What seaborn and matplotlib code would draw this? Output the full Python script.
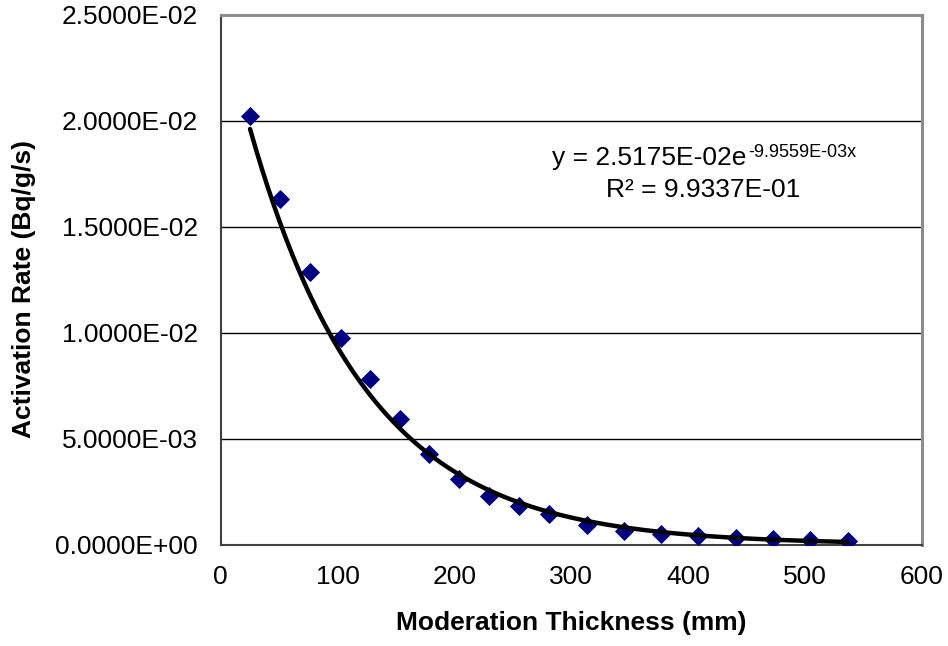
import numpy as np
import pandas as pd
import matplotlib
matplotlib.use("Agg")
import matplotlib.pyplot as plt
from matplotlib.ticker import FuncFormatter
import seaborn as sns

# ---- data ----
thickness_mm = [25.1, 50.8, 76.7, 102.7, 127.8, 153.3, 178.6, 204.0, 229.7, 255.4,
                281.0, 313.2, 344.7, 376.7, 408.6, 440.6, 472.6, 504.5, 536.5]
activation_rate = [0.02023, 0.01628, 0.01284, 0.00973, 0.00779, 0.00593, 0.00427,
                   0.00309, 0.00229, 0.00182, 0.00144, 0.00091, 0.00065, 0.00051,
                   0.00040, 0.00032, 0.00026, 0.00021, 0.00015]
# exponential trendline coefficients printed on the chart
fit_a = 2.5175e-02
fit_b = -9.9559e-03
eq_main = "y = 2.5175E-02e"
eq_sup = "-9.9559E-03x"
r2_text = "R\u00b2 = 9.9337E-01"
x_ticks = [0, 100, 200, 300, 400, 500, 600]
y_ticks = [0.0, 0.005, 0.010, 0.015, 0.020, 0.025]
x_label = "Moderation Thickness (mm)"
y_label = "Activation Rate (Bq/g/s)"

df = pd.DataFrame({"thickness": thickness_mm, "rate": activation_rate})
xt = np.linspace(min(thickness_mm), max(thickness_mm), 300)
trend = pd.DataFrame({"thickness": xt, "rate": fit_a * np.exp(fit_b * xt)})

sns.set_theme(style="white")
plt.rcParams["font.family"] = ["Liberation Sans", "DejaVu Sans"]

W, H = 948, 646
fig = plt.figure(figsize=(W / 100, H / 100), dpi=100)
left, right, top, bottom = 220.7, 922.0, 14.7, 544.5
ax = fig.add_axes([left / W, 1 - bottom / H, (right - left) / W, (bottom - top) / H])

sns.scatterplot(data=df, x="thickness", y="rate", ax=ax, marker="D", s=95,
                color="#000080", edgecolor="#000080", linewidth=0, zorder=3)
sns.lineplot(data=trend, x="thickness", y="rate", ax=ax, color="black",
             linewidth=3.2, zorder=4)

ax.set_xlim(0, 600)
ax.set_ylim(0, 0.025)
ax.set_xticks(x_ticks)
ax.set_yticks(y_ticks)
ax.yaxis.set_major_formatter(FuncFormatter(lambda v, p: f"{v:.4E}"))
ax.xaxis.set_major_formatter(FuncFormatter(lambda v, p: f"{int(round(v))}"))

ax.grid(axis="y", color="black", linewidth=1.0)
ax.grid(axis="x", visible=False)
ax.set_axisbelow(True)

for s in ["top", "right"]:
    ax.spines[s].set_color("#8c8c8c")
    ax.spines[s].set_linewidth(2.2)
for s in ["left", "bottom"]:
    ax.spines[s].set_color("#404040")
    ax.spines[s].set_linewidth(1.5)

FS = 19
ax.tick_params(axis="both", which="major", direction="out", length=5.5, width=1.0,
               color="#404040", labelsize=FS, labelcolor="black")
ax.tick_params(axis="x", pad=9.5)
ax.tick_params(axis="y", pad=11)

ax.set_xlabel(x_label, fontsize=FS, fontweight="bold", color="black")
ax.set_ylabel(y_label, fontsize=FS, fontweight="bold", color="black")
ax.xaxis.label.set_va("center")
ax.yaxis.label.set_va("center")
ax.xaxis.set_label_coords(0.5, (bottom - 623) / (bottom - top))
ax.yaxis.set_label_coords((24 - left) / (right - left), (bottom - 289) / (bottom - top))

def axx(px):
    return (px - left) / (right - left)

def axy(py):
    return (bottom - py) / (bottom - top)

ax.text(axx(746), axy(165), eq_main, transform=ax.transAxes, ha="right",
        va="baseline", fontsize=FS, color="black")
ax.text(axx(748), axy(157), eq_sup, transform=ax.transAxes, ha="left",
        va="baseline", fontsize=13, color="black")
ax.text(axx(703), axy(197), r2_text, transform=ax.transAxes, ha="center",
        va="baseline", fontsize=FS, color="black")

fig.savefig("out.png", dpi=100, facecolor="white")
